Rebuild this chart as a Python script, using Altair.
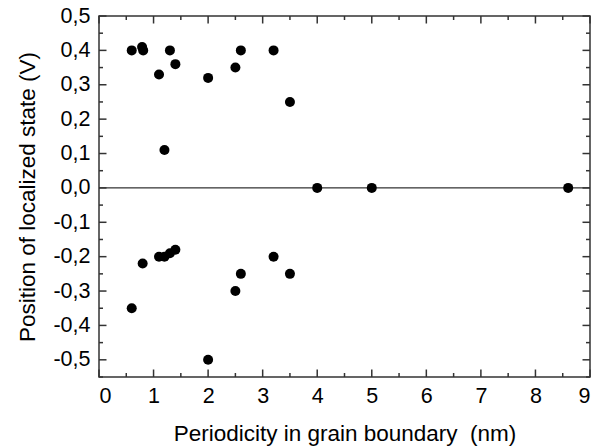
import altair as alt
import pandas as pd

# Data
period_nm = [0.6, 0.79, 0.81, 1.1, 1.2, 1.3, 1.4, 2.0, 2.5, 2.6, 3.2, 3.5, 4.0, 5.0, 8.6,
             0.6, 0.8, 1.1, 1.2, 1.3, 1.4, 2.0, 2.5, 2.6, 3.2, 3.5]
position_v = [0.40, 0.41, 0.40, 0.33, 0.11, 0.40, 0.36, 0.32, 0.35, 0.40, 0.40, 0.25, 0.0, 0.0, 0.0,
              -0.35, -0.22, -0.20, -0.20, -0.19, -0.18, -0.50, -0.30, -0.25, -0.20, -0.25]

x_major = [0, 1, 2, 3, 4, 5, 6, 7, 8, 9]
x_minor = [0.5, 1.5, 2.5, 3.5, 4.5, 5.5, 6.5, 7.5, 8.5]
y_major = [-0.5, -0.4, -0.3, -0.2, -0.1, 0.0, 0.1, 0.2, 0.3, 0.4, 0.5]
y_minor = [-0.55, -0.45, -0.35, -0.25, -0.15, -0.05, 0.05, 0.15, 0.25, 0.35, 0.45]
zero_line = [0.0]

X_TITLE = "Periodicity in grain boundary\u00a0 (nm)"
Y_TITLE = "Position of localized state (V)"

W, H = 491, 361
FONT = "Liberation Sans"
FRAME = "#333333"
LABEL_SIZE = 21.5
TITLE_SIZE = 22.5

xscale = alt.Scale(domain=[0, 9], nice=False, zero=False)
yscale = alt.Scale(domain=[-0.55, 0.5], nice=False, zero=False)

xaxis = alt.Axis(values=x_major, ticks=False, domain=False, grid=False,
                 labelFontSize=LABEL_SIZE, labelFont=FONT, labelColor="black",
                 labelPadding=8, format="d",
                 title=X_TITLE,
                 titleFontSize=TITLE_SIZE, titleFont=FONT, titleFontWeight="normal",
                 titleColor="black", titlePadding=16)
yaxis = alt.Axis(values=y_major, ticks=False, domain=False, grid=False,
                 labelFontSize=LABEL_SIZE, labelFont=FONT, labelColor="black",
                 labelPadding=9,
                 labelExpr="(datum.value < 0 ? '-' : '') + replace(format(abs(datum.value), '.1f'), '.', ',')",
                 title=Y_TITLE,
                 titleFontSize=TITLE_SIZE, titleFont=FONT, titleFontWeight="normal",
                 titleColor="black", titlePadding=13)

def X(f):
    return alt.X(f, type="quantitative", scale=xscale, axis=xaxis, title=X_TITLE)

def Y(f):
    return alt.Y(f, type="quantitative", scale=yscale, axis=yaxis, title=Y_TITLE)

pts = pd.DataFrame({"x": period_nm, "y": position_v})

points = alt.Chart(pts).mark_circle(size=100, color="black", opacity=1).encode(
    x=X("x"), y=Y("y"),
)

zero = alt.Chart(pd.DataFrame({"y": zero_line})).mark_rule(color="black", strokeWidth=1).encode(
    y=Y("y"), x=alt.value(0), x2=alt.value(W),
)

def xticks(vals, length):
    df = pd.DataFrame({"x": vals})
    bottom = alt.Chart(df).mark_rule(color=FRAME, strokeWidth=1.5).encode(
        x=X("x"), y=alt.value(H), y2=alt.value(H - length))
    top = alt.Chart(df).mark_rule(color=FRAME, strokeWidth=1.5).encode(
        x=X("x"), y=alt.value(0), y2=alt.value(length))
    return [bottom, top]

def yticks(vals, length):
    df = pd.DataFrame({"y": vals})
    left = alt.Chart(df).mark_rule(color=FRAME, strokeWidth=1.5).encode(
        y=Y("y"), x=alt.value(0), x2=alt.value(length))
    right = alt.Chart(df).mark_rule(color=FRAME, strokeWidth=1.5).encode(
        y=Y("y"), x=alt.value(W), x2=alt.value(W - length))
    return [left, right]

layers = [zero] + xticks(x_major, 7.5) + xticks(x_minor, 4) + yticks(y_major, 7.5) + yticks(y_minor, 4) + [points]

chart = alt.layer(*layers).properties(
    width=W, height=H,
    autosize=alt.AutoSizeParams(type="none"),
    padding={"left": 99, "top": 16, "right": 5, "bottom": 71},
    background="white",
).configure_view(stroke=FRAME, strokeWidth=1.5)

chart.save("out.html", embed_options={"renderer": "svg", "actions": False})
